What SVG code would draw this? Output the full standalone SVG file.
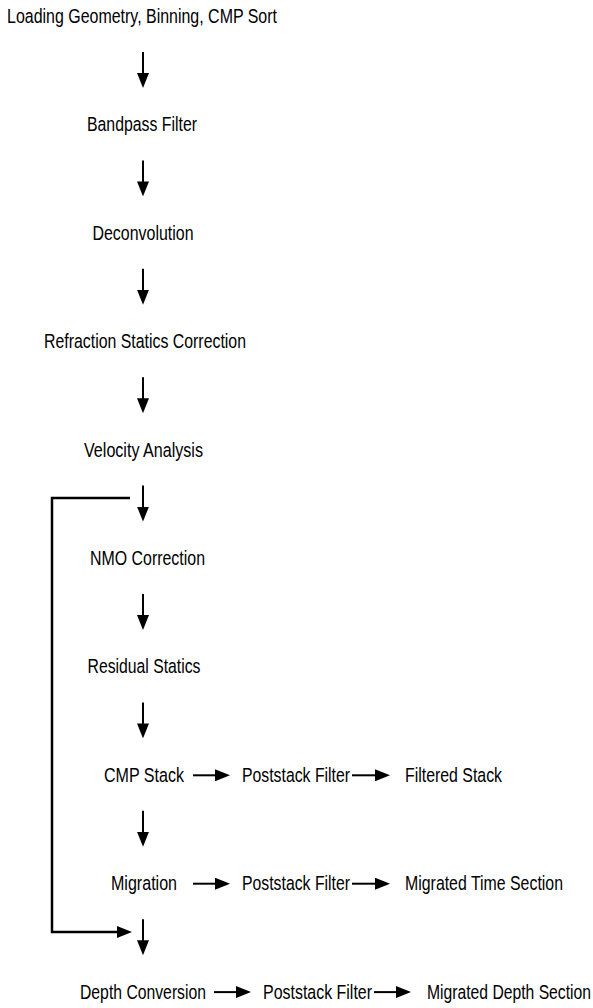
<svg xmlns="http://www.w3.org/2000/svg" width="593" height="1008" viewBox="0 0 593 1008">
<style>
text{font-family:"Liberation Sans",Arial,sans-serif;font-size:20.5px;fill:#000}
.c{text-anchor:middle}
.ln{stroke:#000;stroke-width:2;fill:none}
.lp{stroke:#000;stroke-width:2.5;fill:none}
</style>
<defs>
<marker id="ah" viewBox="0 0 15 12" refX="5" refY="6" markerWidth="15" markerHeight="12" markerUnits="userSpaceOnUse" orient="auto">
<path d="M0,0 L15,6 L0,12 Z" fill="#000"/>
</marker>
</defs>
<g id="n1"><text class="c" x="142" y="23" textLength="270" lengthAdjust="spacingAndGlyphs">Loading Geometry, Binning, CMP Sort</text></g>
<g id="n2"><text class="c" x="142" y="131.4" textLength="110" lengthAdjust="spacingAndGlyphs">Bandpass Filter</text></g>
<g id="n3"><text class="c" x="143" y="239.8" textLength="101" lengthAdjust="spacingAndGlyphs">Deconvolution</text></g>
<g id="n4"><text class="c" x="145" y="348.2" textLength="202" lengthAdjust="spacingAndGlyphs">Refraction Statics Correction</text></g>
<g id="n5"><text class="c" x="143.5" y="456.6" textLength="119" lengthAdjust="spacingAndGlyphs">Velocity Analysis</text></g>
<g id="n6"><text class="c" x="147.5" y="565" textLength="115" lengthAdjust="spacingAndGlyphs">NMO Correction</text></g>
<g id="n7"><text class="c" x="144" y="673.4" textLength="113" lengthAdjust="spacingAndGlyphs">Residual Statics</text></g>
<g id="n8"><text class="c" x="144" y="781.8" textLength="80" lengthAdjust="spacingAndGlyphs">CMP Stack</text></g>
<g id="n9"><text x="242" y="781.8" textLength="108" lengthAdjust="spacingAndGlyphs">Poststack Filter</text></g>
<g id="n10"><text x="405" y="781.8" textLength="97" lengthAdjust="spacingAndGlyphs">Filtered Stack</text></g>
<g id="n11"><text class="c" x="144" y="890.2" textLength="66" lengthAdjust="spacingAndGlyphs">Migration</text></g>
<g id="n12"><text x="242" y="890.2" textLength="108" lengthAdjust="spacingAndGlyphs">Poststack Filter</text></g>
<g id="n13"><text x="405" y="890.2" textLength="158" lengthAdjust="spacingAndGlyphs">Migrated Time Section</text></g>
<g id="n14"><text class="c" x="143" y="998.6" textLength="126" lengthAdjust="spacingAndGlyphs">Depth Conversion</text></g>
<g id="n15"><text x="263" y="998.6" textLength="109" lengthAdjust="spacingAndGlyphs">Poststack Filter</text></g>
<g id="n16"><text x="427" y="998.6" textLength="164" lengthAdjust="spacingAndGlyphs">Migrated Depth Section</text></g>
<g id="connectors">
<line class="ln" x1="143" y1="52" x2="143" y2="78" marker-end="url(#ah)"/>
<line class="ln" x1="143" y1="160.4" x2="143" y2="186.4" marker-end="url(#ah)"/>
<line class="ln" x1="143" y1="268.8" x2="143" y2="294.8" marker-end="url(#ah)"/>
<line class="ln" x1="143" y1="377.2" x2="143" y2="403.2" marker-end="url(#ah)"/>
<line class="ln" x1="143" y1="485.6" x2="143" y2="511.6" marker-end="url(#ah)"/>
<line class="ln" x1="143" y1="594" x2="143" y2="620" marker-end="url(#ah)"/>
<line class="ln" x1="143" y1="702.4" x2="143" y2="728.4" marker-end="url(#ah)"/>
<line class="ln" x1="143" y1="810.8" x2="143" y2="836.8" marker-end="url(#ah)"/>
<line class="ln" x1="143" y1="919.2" x2="143" y2="945.2" marker-end="url(#ah)"/>
<line class="ln" x1="193" y1="775.3" x2="220" y2="775.3" marker-end="url(#ah)"/>
<line class="ln" x1="352" y1="775.3" x2="380" y2="775.3" marker-end="url(#ah)"/>
<line class="ln" x1="193" y1="883.7" x2="220" y2="883.7" marker-end="url(#ah)"/>
<line class="ln" x1="352" y1="883.7" x2="380" y2="883.7" marker-end="url(#ah)"/>
<line class="ln" x1="214" y1="992.1" x2="241" y2="992.1" marker-end="url(#ah)"/>
<line class="ln" x1="374" y1="992.1" x2="401" y2="992.1" marker-end="url(#ah)"/>
<polyline class="lp" points="130,498 52,498 52,932 122,932" marker-end="url(#ah)"/>
</g>
</svg>
